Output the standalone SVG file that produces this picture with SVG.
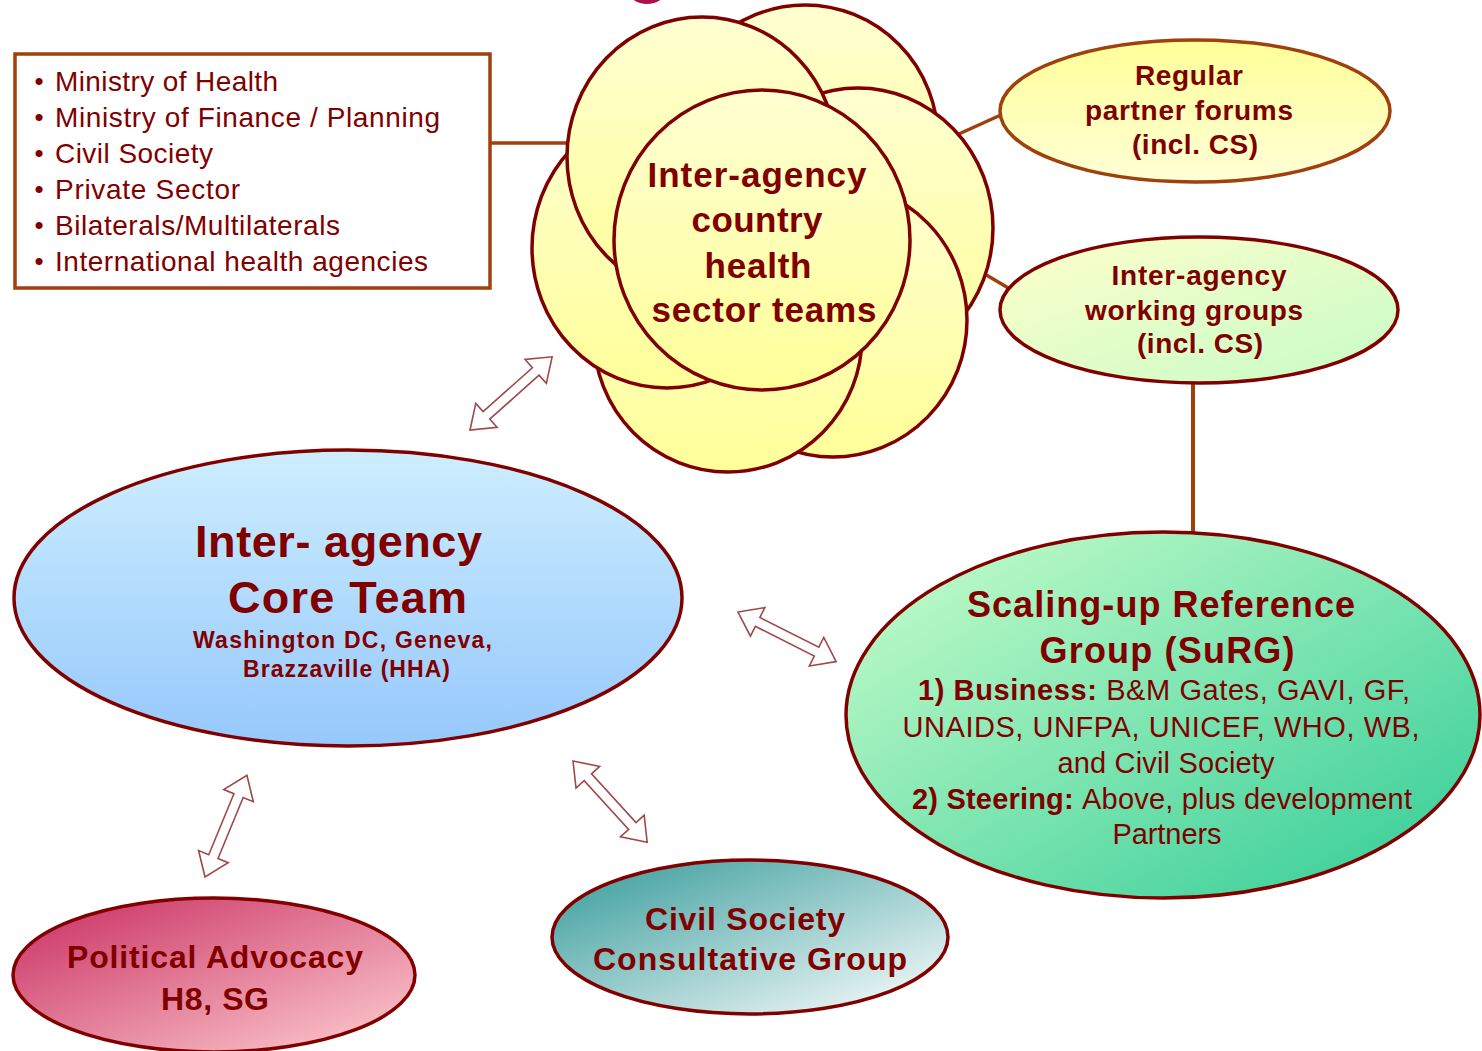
<svg xmlns="http://www.w3.org/2000/svg" width="1482" height="1051" viewBox="0 0 1482 1051">
<style>
.t{font-family:"Liberation Sans",Arial,sans-serif;fill:#800000}
.b{font-weight:bold}
.m{text-anchor:middle}
.ol{stroke:#800000;stroke-width:3.5}
.rust{stroke:#a0400c;stroke-width:3.5;fill:none}
.arr{fill:#ffffff;stroke:#a04848;stroke-width:1.6;stroke-linejoin:miter}
</style>
<defs>
<linearGradient id="gY" x1="0" y1="0" x2="0" y2="1"><stop offset="0" stop-color="#ffffd2"/><stop offset="1" stop-color="#ffff99"/></linearGradient>
<linearGradient id="gRP" x1="0" y1="0" x2="0" y2="1"><stop offset="0" stop-color="#ffff99"/><stop offset="1" stop-color="#ffffd6"/></linearGradient>
<linearGradient id="gWG" x1="0" y1="0" x2="1" y2="1"><stop offset="0" stop-color="#ffffcc"/><stop offset="1" stop-color="#c6fcc6"/></linearGradient>
<linearGradient id="gCT" x1="0" y1="0" x2="0" y2="1"><stop offset="0" stop-color="#cdeefe"/><stop offset="1" stop-color="#96c8fc"/></linearGradient>
<linearGradient id="gSG" x1="0" y1="0" x2="1" y2="1"><stop offset="0" stop-color="#ccffcc"/><stop offset="1" stop-color="#2ecb96"/></linearGradient>
<linearGradient id="gPA" x1="0" y1="0" x2="1" y2="1"><stop offset="0" stop-color="#c82c60"/><stop offset="1" stop-color="#ffd0d2"/></linearGradient>
<linearGradient id="gCS" x1="0" y1="0" x2="1" y2="1"><stop offset="0" stop-color="#339999"/><stop offset="1" stop-color="#ffffff"/></linearGradient>
<path id="dbl" d="M0,0 L22,-16 L22,-5 L88,-5 L88,-16 L110,0 L88,16 L88,5 L22,5 L22,16 Z"/>
</defs>

<ellipse cx="647" cy="-9" rx="18" ry="13" fill="#b0104a"/>

<g id="connectors">
<line class="rust" x1="490" y1="143" x2="580" y2="143"/>
<line class="rust" x1="950" y1="138" x2="1003" y2="114"/>
<line class="rust" x1="978" y1="270" x2="1010" y2="289"/>
<line class="rust" x1="1193" y1="383" x2="1193" y2="532" style="stroke-width:4"/>
<use href="#dbl" class="arr" transform="translate(470,430) rotate(-41.7)"/>
<use href="#dbl" class="arr" transform="translate(738,612) rotate(26.8)"/>
<use href="#dbl" class="arr" transform="translate(573,761) rotate(47.6)"/>
<use href="#dbl" class="arr" transform="translate(205,877) rotate(-67.6)"/>
</g>

<g id="stakeholders">
<rect x="15" y="54" width="475" height="234" fill="#ffffff" stroke="#a0400c" stroke-width="3.5"/>
<g class="t" font-size="28">
<text x="39" y="90" class="m" font-size="26">•</text><text x="55" y="91" textLength="223">Ministry of Health</text>
<text x="39" y="126" class="m" font-size="26">•</text><text x="55" y="127" textLength="385">Ministry of Finance / Planning</text>
<text x="39" y="162" class="m" font-size="26">•</text><text x="55" y="163" textLength="158">Civil Society</text>
<text x="39" y="198" class="m" font-size="26">•</text><text x="55" y="199" textLength="185">Private Sector</text>
<text x="39" y="234" class="m" font-size="26">•</text><text x="55" y="235" textLength="285">Bilaterals/Multilaterals</text>
<text x="39" y="270" class="m" font-size="26">•</text><text x="55" y="271" textLength="373">International health agencies</text>
</g>
</g>

<g id="country-teams">
<ellipse cx="805" cy="140" rx="133" ry="135" fill="url(#gY)" class="ol"/>
<ellipse cx="858" cy="228" rx="135" ry="140" fill="url(#gY)" class="ol"/>
<ellipse cx="833" cy="320" rx="134" ry="137" fill="url(#gY)" class="ol"/>
<ellipse cx="728" cy="337" rx="134" ry="135" fill="url(#gY)" class="ol"/>
<ellipse cx="667" cy="248" rx="135" ry="140" fill="url(#gY)" class="ol"/>
<ellipse cx="702" cy="157" rx="135" ry="140" fill="url(#gY)" class="ol"/>
<ellipse cx="762" cy="240" rx="148" ry="150" fill="url(#gY)" class="ol"/>
<g class="t b m" font-size="35">
<text x="757" y="187" textLength="219">Inter-agency</text>
<text x="757" y="232" textLength="131">country</text>
<text x="758" y="278" textLength="107">health</text>
<text x="764" y="322" textLength="225">sector teams</text>
</g>
</g>

<g id="partner-forums">
<ellipse cx="1195" cy="111" rx="195" ry="71" fill="url(#gRP)" stroke="#a0400c" stroke-width="3.5"/>
<g class="t b m" font-size="28">
<text x="1189" y="85" textLength="108">Regular</text>
<text x="1189" y="120" textLength="208">partner forums</text>
<text x="1195" y="154" textLength="126">(incl. CS)</text>
</g>
</g>

<g id="working-groups">
<ellipse cx="1199" cy="310" rx="199" ry="73" fill="url(#gWG)" class="ol"/>
<g class="t b m" font-size="28">
<text x="1199" y="285" textLength="175">Inter-agency</text>
<text x="1194" y="320" textLength="218">working groups</text>
<text x="1200" y="353" textLength="126">(incl. CS)</text>
</g>
</g>

<g id="core-team">
<ellipse cx="348" cy="598" rx="334" ry="148" fill="url(#gCT)" class="ol"/>
<g class="t b m">
<text x="338.5" y="557" font-size="45" textLength="287">Inter- agency</text>
<text x="347.5" y="613" font-size="45" textLength="239">Core Team</text>
<text x="342.5" y="648" font-size="23" textLength="299">Washington DC, Geneva,</text>
<text x="346.5" y="677" font-size="23" textLength="207">Brazzaville (HHA)</text>
</g>
</g>

<g id="surg">
<ellipse cx="1163" cy="715" rx="317" ry="183" fill="url(#gSG)" class="ol"/>
<g class="t m" font-size="29">
<text x="1161" y="617" class="b" font-size="36" textLength="388">Scaling-up Reference</text>
<text x="1167" y="663" class="b" font-size="36" textLength="255">Group (SuRG)</text>
<text x="1164" y="700" textLength="492"><tspan class="b">1) Business: </tspan>B&amp;M Gates, GAVI, GF,</text>
<text x="1161" y="737" textLength="517">UNAIDS, UNFPA, UNICEF, WHO, WB,</text>
<text x="1166" y="773" textLength="217">and Civil Society</text>
<text x="1162" y="809" textLength="500"><tspan class="b">2) Steering: </tspan>Above, plus development</text>
<text x="1167" y="844" textLength="109">Partners</text>
</g>
</g>

<g id="political-advocacy">
<ellipse cx="214" cy="975" rx="201" ry="77" fill="url(#gPA)" class="ol"/>
<g class="t b m" font-size="32">
<text x="215" y="968" textLength="296">Political Advocacy</text>
<text x="215" y="1010" textLength="108">H8, SG</text>
</g>
</g>

<g id="civil-society-group">
<ellipse cx="750" cy="937" rx="198" ry="77" fill="url(#gCS)" class="ol"/>
<g class="t b m" font-size="32">
<text x="745" y="930" textLength="200">Civil Society</text>
<text x="750" y="970" textLength="314">Consultative Group</text>
</g>
</g>
</svg>
